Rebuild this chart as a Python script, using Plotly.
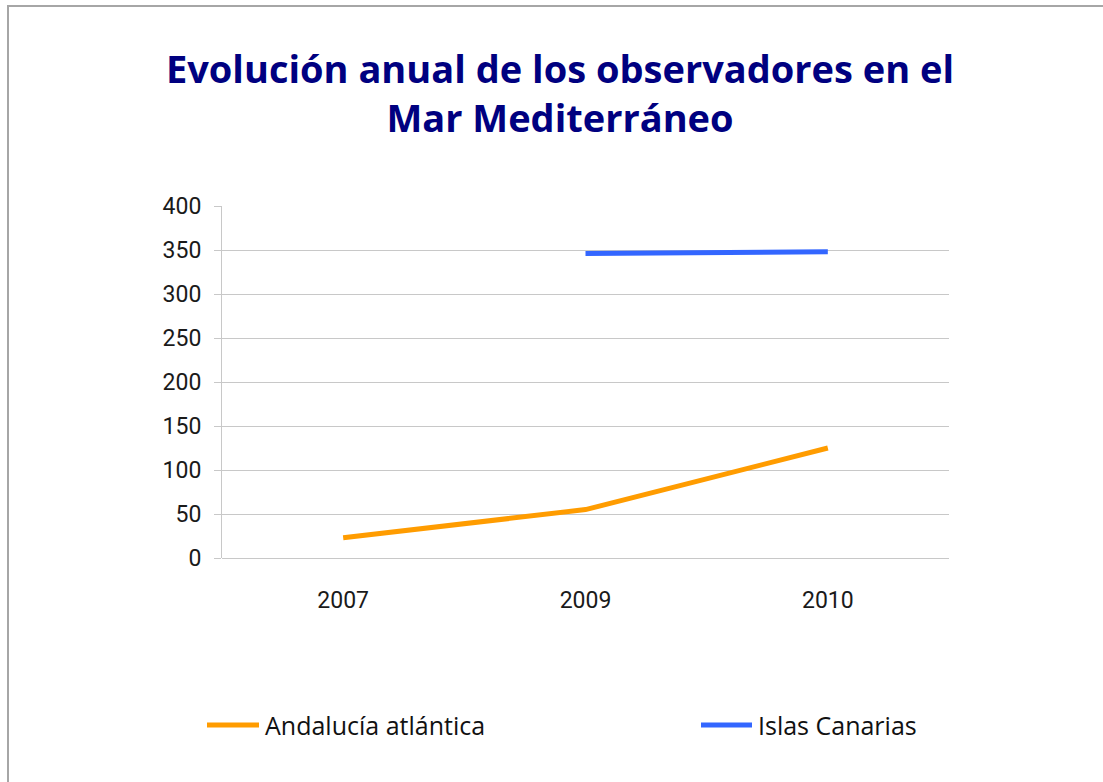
import plotly.graph_objects as go

# Observers per year
years = ["2007", "2009", "2010"]
andalucia = [23, 55, 125]
canarias = [None, 346, 348]
series_names = ["Andalucía atlántica", "Islas Canarias"]
series_colors = ["#FF9C00", "#3366FF"]
y_ticks = [0, 50, 100, 150, 200, 250, 300, 350, 400]
chart_title = "Evolución anual de los observadores en el<br>Mar Mediterráneo"

W, H = 1103, 782
L, R, T, B = 222, 154, 206, 224
PW, PH = W - L - R, H - T - B


def px(x):
    return (x - L) / PW


def py(y):
    return (H - B - y) / PH


fig = go.Figure()
for name, vals, col in zip(series_names, [andalucia, canarias], series_colors):
    fig.add_trace(go.Scatter(
        x=years, y=vals, name=name, mode="lines",
        line=dict(color=col, width=5), connectgaps=False,
        showlegend=False,
    ))

title_font = dict(family="Open Sans", size=38, color="#000080", weight="bold")
tick_font = dict(family="Roboto", size=23, color="#1a1a1a")
legend_font = dict(family="Open Sans", size=25, color="#111111")

shapes = [
    # outer chart frame (right and bottom edges fall outside the page)
    dict(type="rect", xref="paper", yref="paper",
         x0=px(8), x1=px(1250), y0=py(900), y1=py(6),
         line=dict(color="#a6a6a6", width=2), fillcolor="rgba(0,0,0,0)",
         layer="below"),
]
annotations = []

# legend: sample line + label for each series
legend_pos = [(207, 259), (701, 752)]
for (x0, x1), name, col in zip(legend_pos, series_names, series_colors):
    shapes.append(dict(type="line", xref="paper", yref="paper",
                       x0=px(x0), x1=px(x1), y0=py(725), y1=py(725),
                       line=dict(color=col, width=5)))
    annotations.append(dict(text=name, xref="paper", yref="paper",
                            x=px(x1 + 4), y=py(725), showarrow=False,
                            xanchor="left", yanchor="middle", font=legend_font))

fig.update_layout(
    width=W, height=H,
    margin=dict(l=L, r=R, t=T, b=B),
    paper_bgcolor="white", plot_bgcolor="white",
    title=dict(text=chart_title, font=title_font,
               xref="container", yref="container",
               x=560 / W, y=1 - 83 / H, xanchor="center", yanchor="middle"),
    shapes=shapes, annotations=annotations,
    showlegend=False,
)
fig.update_xaxes(
    type="category", range=[-0.5, 2.5],
    showgrid=False, showline=False, zeroline=False,
    ticks="", tickfont=tick_font, ticklabelstandoff=26,
)
fig.update_yaxes(
    range=[0, 400], tickvals=y_ticks,
    showgrid=True, gridcolor="#c8c8c8", gridwidth=1,
    showline=True, linecolor="#c8c8c8", linewidth=1,
    zeroline=True, zerolinecolor="#c8c8c8", zerolinewidth=1,
    ticks="outside", ticklen=7, tickcolor="#c8c8c8",
    tickfont=tick_font, ticklabelstandoff=8,
)

fig.write_html("out.html")
